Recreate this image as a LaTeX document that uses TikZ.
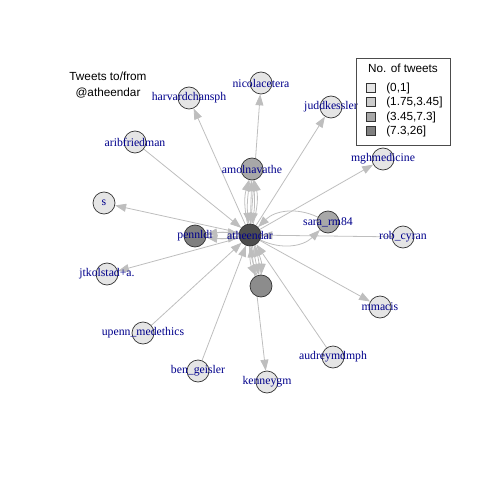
\documentclass[tikz,border=0pt]{standalone}
\usepackage{fontspec}
\setmainfont{Liberation Serif}
\setsansfont{Liberation Sans}
\usetikzlibrary{positioning, arrows.meta, backgrounds}
\definecolor{edgegray}{HTML}{BEBEBE}
\definecolor{lblblue}{HTML}{00008B}
\definecolor{lvlone}{HTML}{E5E5E5}
\definecolor{lvltwo}{HTML}{CCCCCC}
\definecolor{lvlthree}{HTML}{A8A8A8}
\definecolor{lvlfour}{HTML}{808080}
\definecolor{hubgray}{HTML}{4D4D4D}
\definecolor{midgray}{HTML}{8C8C8C}

\begin{document}
\begin{tikzpicture}[
        x=1bp, y=-1bp, >={Triangle[length=11bp, width=8bp]},
        vtx/.style={circle, draw=black!80, line width=0.7bp, minimum size=22bp, inner sep=0pt, fill=lvlone},
        lbl/.style={text=lblblue, font=\fontsize{11.8}{12}\selectfont},
        edge/.style={->, draw=edgegray, line width=0.8bp},
        sans/.style={font=\sffamily\fontsize{11.8}{16}\selectfont, align=center},
        legsq/.style={rectangle, draw=black!80, line width=0.6bp, minimum size=9bp, inner sep=0pt}
    ]
        \useasboundingbox (0,0) rectangle (480,480);

        % --- TITLE ---
        \node[sans] (title) at (108,85) {Tweets to/from\\@atheendar};

        % --- HUB AND HEAVY CONTACTS ---
        \node[vtx, fill=hubgray, label={[lbl]center:atheendar}] (ath) at (250,235) {};
        \node[vtx, fill=lvlthree, label={[lbl]center:amolnavathe}] (amol) at (252,169) {};
        \node[vtx, fill=lvlfour, label={[lbl]center:pennldi}] (penn) at (195,236) {};
        \node[vtx, fill=lvlthree, label={[lbl]center:sara\_rm84}] (sara) at (328,222) {};
        \node[vtx, fill=midgray] (unk) at (261,286) {};

        % --- SINGLE CONTACTS ---
        \node[vtx, label={[lbl]center:harvardchansph}] (harv) at (189,98) {};
        \node[vtx, label={[lbl]center:nicolacetera}] (nico) at (261,83) {};
        \node[vtx, label={[lbl]center:juddkessler}] (judd) at (331,107) {};
        \node[vtx, label={[lbl]center:aribfriedman}] (arib) at (135,142) {};
        \node[vtx, label={[lbl]center:mghmedicine}] (mgh) at (383,159) {};
        \node[vtx, label={[lbl]center:s}] (s) at (104,203) {};
        \node[vtx, label={[lbl]center:rob\_cyran}] (rob) at (403,237) {};
        \node[vtx, label={[lbl]center:jtkolstad+a.}] (jtk) at (107,274) {};
        \node[vtx, label={[lbl]center:mmacis}] (mmac) at (380,307) {};
        \node[vtx, label={[lbl]center:upenn\_medethics}] (upenn) at (143,333) {};
        \node[vtx, label={[lbl]center:audreymdmph}] (audrey) at (333,357) {};
        \node[vtx, label={[lbl]center:ben\_geisler}] (ben) at (198,371) {};
        \node[vtx, label={[lbl]center:kenneygm}] (kenn) at (267,382) {};

        % --- LEGEND ---
        \node[draw=black!70, line width=0.7bp, minimum width=94bp, minimum height=87bp] (legend) at (403,101.5) {};
        \node[sans] (legtitle) at (403,68) {No. of tweets};
        \node[legsq, fill=lvlone] (sq1) at (371,88) {};
        \node[legsq, fill=lvltwo] (sq2) at (371,102) {};
        \node[legsq, fill=lvlthree] (sq3) at (371,117) {};
        \node[legsq, fill=lvlfour] (sq4) at (371,131) {};
        \node[sans, anchor=west, right=7bp of sq1] {(0,1]};
        \node[sans, anchor=west, right=7bp of sq2] {(1.75,3.45]};
        \node[sans, anchor=west, right=7bp of sq3] {(3.45,7.3]};
        \node[sans, anchor=west, right=7bp of sq4] {(7.3,26]};

        % --- CONNECTIONS ---
        \begin{scope}[on background layer]
            % outgoing
            \draw[edge] (ath) -- (harv);
            \draw[edge] (ath) -- (nico);
            \draw[edge] (ath) -- (judd);
            \draw[edge] (ath) -- (mgh);
            \draw[edge] (ath) -- (s);
            \draw[edge] (ath) -- (jtk);
            \draw[edge] (ath) -- (mmac);
            \draw[edge] (ath) -- (kenn);
            % incoming
            \draw[edge] (arib) -- (ath);
            \draw[edge] (rob) -- (ath);
            \draw[edge] (upenn) -- (ath);
            \draw[edge] (ben) -- (ath);
            \draw[edge] (audrey) -- (ath);
            % both ways, several tweets
            \foreach \b in {-14,0,14} {
                \draw[edge] (ath) to[bend left=\b] (amol);
                \draw[edge] (ath) to[bend left=\b] (unk);
            }
            \foreach \b in {-8,8} {
                \draw[edge] (amol) to[bend left=\b] (ath);
                \draw[edge] (unk) to[bend left=\b] (ath);
                \draw[edge] (ath) to[bend left=\b] (penn);
                \draw[edge] (penn) to[bend left=\b] (ath);
            }
            \draw[edge] (ath) to[bend right=35] (sara);
            \draw[edge] (sara) to[bend right=35] (ath);
        \end{scope}

    \end{tikzpicture}
\end{document}
